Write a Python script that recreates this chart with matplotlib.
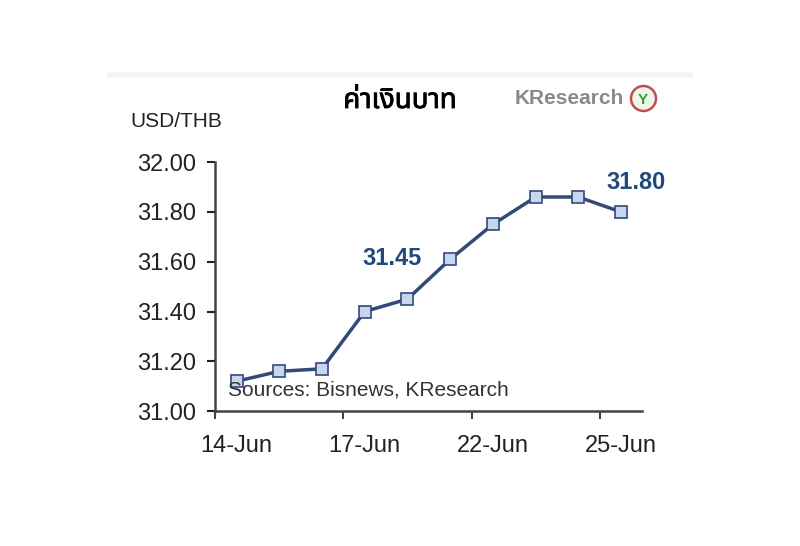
import matplotlib.pyplot as plt
import matplotlib.patheffects as pe

# data
dates = ['14-Jun', '15-Jun', '16-Jun', '17-Jun', '18-Jun',
         '21-Jun', '22-Jun', '23-Jun', '24-Jun', '25-Jun']
rates = [31.12, 31.16, 31.17, 31.40, 31.45, 31.61, 31.75, 31.86, 31.86, 31.80]
label_idx = [4, 9]
tick_idx = [0, 3, 6, 9]

plt.rcParams['font.family'] = ['Liberation Sans', 'DejaVu Sans']

fig = plt.figure(figsize=(8, 5.46), dpi=100)
ax = fig.add_axes([0.269, 0.247, 0.534, 0.456])

x = list(range(len(rates)))
ax.plot(x, rates, color='#34497A', lw=2.5, marker='s', ms=8.5,
        mfc='#C5D6EE', mec='#34497A', mew=1.2, zorder=3)

ax.set_xlim(-0.5, len(rates) - 0.5)
ax.set_ylim(31.0, 32.0)
ax.set_yticks([31.0, 31.2, 31.4, 31.6, 31.8, 32.0])
ax.set_yticklabels(['%.2f' % v for v in ax.get_yticks()])
# labels sit under the categories, tick marks sit on the boundaries
ax.set_xticks(tick_idx)
ax.set_xticklabels([dates[i] for i in tick_idx])
ax.set_xticks([i - 0.5 for i in tick_idx], minor=True)
ax.tick_params(axis='both', labelsize=17, colors='#222222', width=1.5,
               direction='out')
ax.tick_params(axis='y', length=6, pad=8)
ax.tick_params(axis='x', which='major', length=0, pad=17)
ax.tick_params(axis='x', which='minor', length=6, width=1.5, color='#444444')

for s in ['top', 'right']:
    ax.spines[s].set_visible(False)
for s in ['left', 'bottom']:
    ax.spines[s].set_color('#444444')
    ax.spines[s].set_linewidth(1.8)

ax.text(label_idx[0] - 0.35, 31.615, '%.2f' % rates[label_idx[0]], ha='center',
        va='center', fontsize=17, fontweight='bold', color='#1F4A7C')
ax.text(label_idx[1] + 0.34, 31.92, '%.2f' % rates[label_idx[1]], ha='center',
        va='center', fontsize=17, fontweight='bold', color='#1F4A7C')

ax.text(0.03, 0.085, 'Sources: Bisnews, KResearch', transform=ax.transAxes,
        fontsize=15, color='#333333', va='center')

fig.text(0.163, 0.778, 'USD/THB', fontsize=15, color='#222222', va='center')
fig.text(0.5, 0.815, 'ค่าเงินบาท', fontsize=20, fontweight='bold',
         ha='center', va='center',
         family=['Noto Sans Thai', 'Loma', 'Garuda', 'Tlwg Typo', 'DejaVu Sans'],
         path_effects=[pe.withStroke(linewidth=0.6, foreground='black')])
fig.text(0.643, 0.82, 'KResearch', fontsize=15, fontweight='bold',
         color='#8A8A8A', va='center')
fig.add_artist(plt.Line2D([0.804], [0.82], transform=fig.transFigure,
                          marker='o', ms=18, mfc='#EEF6EA', mec='#C0504D',
                          mew=1.8, ls='none'))
fig.text(0.804, 0.817, 'Y', fontsize=11, fontweight='bold', color='#3E9A3E',
         ha='center', va='center')

fig.add_artist(plt.Line2D([0.137, 0.862], [0.862, 0.862],
                          transform=fig.transFigure, color='#F4F4F4', lw=4))

fig.savefig('out.png', dpi=100)
